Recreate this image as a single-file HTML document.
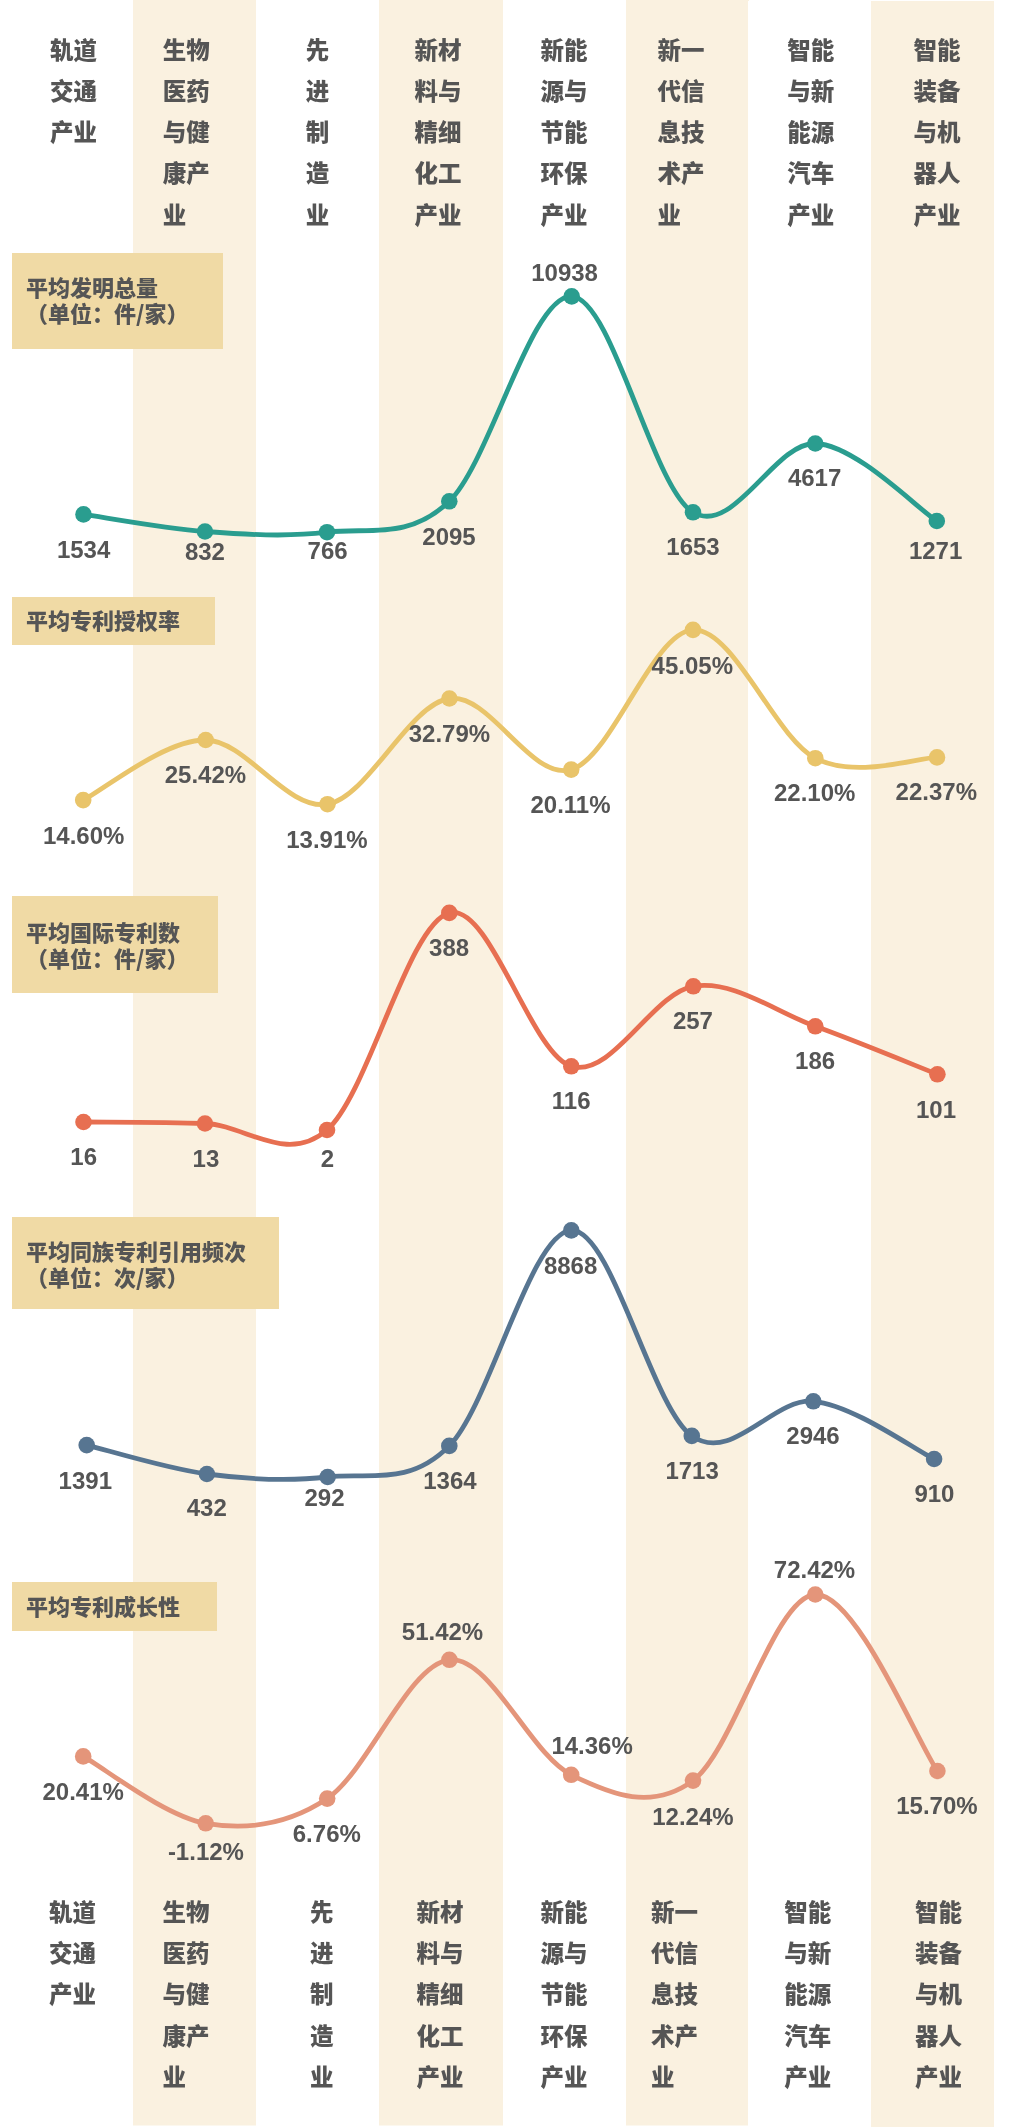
<!DOCTYPE html>
<html lang="zh-CN"><head><meta charset="utf-8"><title>产业专利指标对比</title>
<style>
html,body{margin:0;padding:0;background:#fff;}
body{width:1020px;height:2127px;overflow:hidden;}
svg{display:block;will-change:transform;}
.h{font-family:'Noto Sans CJK SC',sans-serif;font-weight:900;font-size:23.5px;fill:#555555;}
.t{font-family:'Noto Sans CJK SC',sans-serif;font-weight:900;font-size:22px;fill:#555555;}
.n{font-family:'Liberation Sans','Noto Sans CJK SC',sans-serif;font-weight:700;font-size:24px;fill:#555555;text-anchor:middle;}
</style></head><body>
<svg width="1020" height="2127" viewBox="0 0 1020 2127">

<rect x="133" y="0" width="123" height="2125.5" fill="#FAF1E0"/>
<rect x="379" y="0" width="124" height="2125.5" fill="#FAF1E0"/>
<rect x="626" y="0" width="122" height="2125.5" fill="#FAF1E0"/>
<rect x="871" y="1" width="123" height="2126" fill="#FAF1E0"/>
<rect x="748" y="0" width="1" height="1" fill="#FAF1E0"/>
<text class="h" x="50.0" y="58.5">轨道</text>
<text class="h" x="50.0" y="99.8">交通</text>
<text class="h" x="50.0" y="141.1">产业</text>
<text class="h" x="162.8" y="58.5">生物</text>
<text class="h" x="162.8" y="99.8">医药</text>
<text class="h" x="162.8" y="141.1">与健</text>
<text class="h" x="162.8" y="182.4">康产</text>
<text class="h" x="162.8" y="223.7">业</text>
<text class="h" x="305.8" y="58.5">先</text>
<text class="h" x="305.8" y="99.8">进</text>
<text class="h" x="305.8" y="141.1">制</text>
<text class="h" x="305.8" y="182.4">造</text>
<text class="h" x="305.8" y="223.7">业</text>
<text class="h" x="414.5" y="58.5">新材</text>
<text class="h" x="414.5" y="99.8">料与</text>
<text class="h" x="414.5" y="141.1">精细</text>
<text class="h" x="414.5" y="182.4">化工</text>
<text class="h" x="414.5" y="223.7">产业</text>
<text class="h" x="540.5" y="58.5">新能</text>
<text class="h" x="540.5" y="99.8">源与</text>
<text class="h" x="540.5" y="141.1">节能</text>
<text class="h" x="540.5" y="182.4">环保</text>
<text class="h" x="540.5" y="223.7">产业</text>
<text class="h" x="657.6" y="58.5">新一</text>
<text class="h" x="657.6" y="99.8">代信</text>
<text class="h" x="657.6" y="141.1">息技</text>
<text class="h" x="657.6" y="182.4">术产</text>
<text class="h" x="657.6" y="223.7">业</text>
<text class="h" x="787.3" y="58.5">智能</text>
<text class="h" x="787.3" y="99.8">与新</text>
<text class="h" x="787.3" y="141.1">能源</text>
<text class="h" x="787.3" y="182.4">汽车</text>
<text class="h" x="787.3" y="223.7">产业</text>
<text class="h" x="913.4" y="58.5">智能</text>
<text class="h" x="913.4" y="99.8">装备</text>
<text class="h" x="913.4" y="141.1">与机</text>
<text class="h" x="913.4" y="182.4">器人</text>
<text class="h" x="913.4" y="223.7">产业</text>
<text class="h" x="48.9" y="1920.6">轨道</text>
<text class="h" x="48.9" y="1961.9">交通</text>
<text class="h" x="48.9" y="2003.2">产业</text>
<text class="h" x="162.5" y="1920.6">生物</text>
<text class="h" x="162.5" y="1961.9">医药</text>
<text class="h" x="162.5" y="2003.2">与健</text>
<text class="h" x="162.5" y="2044.5">康产</text>
<text class="h" x="162.5" y="2085.8">业</text>
<text class="h" x="309.9" y="1920.6">先</text>
<text class="h" x="309.9" y="1961.9">进</text>
<text class="h" x="309.9" y="2003.2">制</text>
<text class="h" x="309.9" y="2044.5">造</text>
<text class="h" x="309.9" y="2085.8">业</text>
<text class="h" x="416.5" y="1920.6">新材</text>
<text class="h" x="416.5" y="1961.9">料与</text>
<text class="h" x="416.5" y="2003.2">精细</text>
<text class="h" x="416.5" y="2044.5">化工</text>
<text class="h" x="416.5" y="2085.8">产业</text>
<text class="h" x="540.5" y="1920.6">新能</text>
<text class="h" x="540.5" y="1961.9">源与</text>
<text class="h" x="540.5" y="2003.2">节能</text>
<text class="h" x="540.5" y="2044.5">环保</text>
<text class="h" x="540.5" y="2085.8">产业</text>
<text class="h" x="650.9" y="1920.6">新一</text>
<text class="h" x="650.9" y="1961.9">代信</text>
<text class="h" x="650.9" y="2003.2">息技</text>
<text class="h" x="650.9" y="2044.5">术产</text>
<text class="h" x="650.9" y="2085.8">业</text>
<text class="h" x="784.3" y="1920.6">智能</text>
<text class="h" x="784.3" y="1961.9">与新</text>
<text class="h" x="784.3" y="2003.2">能源</text>
<text class="h" x="784.3" y="2044.5">汽车</text>
<text class="h" x="784.3" y="2085.8">产业</text>
<text class="h" x="914.9" y="1920.6">智能</text>
<text class="h" x="914.9" y="1961.9">装备</text>
<text class="h" x="914.9" y="2003.2">与机</text>
<text class="h" x="914.9" y="2044.5">器人</text>
<text class="h" x="914.9" y="2085.8">产业</text>
<rect x="12" y="253" width="211" height="96" fill="#F0DAA5"/>
<path d="M83.50 514.40 C103.75 517.25 164.42 528.53 205.00 531.50 C245.58 534.47 286.28 537.23 327.00 532.20 C367.72 527.17 408.52 540.60 449.30 501.30 C490.08 462.00 531.08 294.57 571.70 296.40 C612.32 298.23 652.40 487.78 693.00 512.30 C733.60 536.82 774.67 442.05 815.30 443.50 C855.93 444.95 916.55 508.08 936.80 521.00" fill="none" stroke="#2A9D8F" stroke-width="4.8" stroke-linecap="round"/>
<circle cx="83.5" cy="514.4" r="8.3" fill="#2A9D8F"/>
<circle cx="205" cy="531.5" r="8.3" fill="#2A9D8F"/>
<circle cx="327" cy="532.2" r="8.3" fill="#2A9D8F"/>
<circle cx="449.3" cy="501.3" r="8.3" fill="#2A9D8F"/>
<circle cx="571.7" cy="296.4" r="8.3" fill="#2A9D8F"/>
<circle cx="693" cy="512.3" r="8.3" fill="#2A9D8F"/>
<circle cx="815.3" cy="443.5" r="8.3" fill="#2A9D8F"/>
<circle cx="936.8" cy="521" r="8.3" fill="#2A9D8F"/>
<text class="n" x="83.6" y="558.2">1534</text>
<text class="n" x="204.9" y="560.2">832</text>
<text class="n" x="327.6" y="559.2">766</text>
<text class="n" x="449" y="544.8">2095</text>
<text class="n" x="564.6" y="281.2">10938</text>
<text class="n" x="693" y="554.7">1653</text>
<text class="n" x="814.6" y="485.7">4617</text>
<text class="n" x="935.6" y="559.4">1271</text>
<rect x="12" y="597" width="203" height="48" fill="#F0DAA5"/>
<path d="M83.20 800.10 C103.62 790.08 164.98 739.32 205.70 740.00 C246.42 740.68 286.88 811.12 327.50 804.20 C368.12 797.28 408.78 704.27 449.40 698.50 C490.02 692.73 530.60 781.03 571.20 769.60 C611.80 758.17 652.32 631.80 693.00 629.90 C733.68 628.00 774.63 736.95 815.30 758.20 C855.97 779.45 916.72 757.53 937.00 757.40" fill="none" stroke="#E9C46A" stroke-width="4.8" stroke-linecap="round"/>
<circle cx="83.2" cy="800.1" r="8.3" fill="#E9C46A"/>
<circle cx="205.7" cy="740" r="8.3" fill="#E9C46A"/>
<circle cx="327.5" cy="804.2" r="8.3" fill="#E9C46A"/>
<circle cx="449.4" cy="698.5" r="8.3" fill="#E9C46A"/>
<circle cx="571.2" cy="769.6" r="8.3" fill="#E9C46A"/>
<circle cx="693" cy="629.9" r="8.3" fill="#E9C46A"/>
<circle cx="815.3" cy="758.2" r="8.3" fill="#E9C46A"/>
<circle cx="937" cy="757.4" r="8.3" fill="#E9C46A"/>
<text class="n" x="83.7" y="844.1">14.60%</text>
<text class="n" x="205.4" y="782.8">25.42%</text>
<text class="n" x="326.9" y="848.0">13.91%</text>
<text class="n" x="449.4" y="741.9">32.79%</text>
<text class="n" x="570.5" y="813.0">20.11%</text>
<text class="n" x="692.3" y="674.0">45.05%</text>
<text class="n" x="814.7" y="801.3">22.10%</text>
<text class="n" x="936.3" y="799.8">22.37%</text>
<rect x="12" y="896" width="206" height="97" fill="#F0DAA5"/>
<path d="M83.50 1122.00 C103.75 1122.25 164.42 1122.17 205.00 1123.50 C245.58 1124.83 286.28 1165.10 327.00 1130.00 C367.72 1094.90 408.58 923.52 449.30 912.90 C490.02 902.28 530.63 1054.07 571.30 1066.30 C611.97 1078.53 652.63 992.97 693.30 986.30 C733.97 979.63 774.62 1011.63 815.30 1026.30 C855.98 1040.97 917.05 1066.30 937.40 1074.30" fill="none" stroke="#E76F51" stroke-width="4.8" stroke-linecap="round"/>
<circle cx="83.5" cy="1122" r="8.3" fill="#E76F51"/>
<circle cx="205" cy="1123.5" r="8.3" fill="#E76F51"/>
<circle cx="327" cy="1130" r="8.3" fill="#E76F51"/>
<circle cx="449.3" cy="912.9" r="8.3" fill="#E76F51"/>
<circle cx="571.3" cy="1066.3" r="8.3" fill="#E76F51"/>
<circle cx="693.3" cy="986.3" r="8.3" fill="#E76F51"/>
<circle cx="815.3" cy="1026.3" r="8.3" fill="#E76F51"/>
<circle cx="937.4" cy="1074.3" r="8.3" fill="#E76F51"/>
<text class="n" x="83.7" y="1164.5">16</text>
<text class="n" x="205.9" y="1166.6">13</text>
<text class="n" x="327.4" y="1167.4">2</text>
<text class="n" x="449.1" y="956.3">388</text>
<text class="n" x="571.2" y="1109.4">116</text>
<text class="n" x="692.9" y="1029.4">257</text>
<text class="n" x="815.1" y="1069.2">186</text>
<text class="n" x="936" y="1117.5">101</text>
<rect x="12" y="1217" width="267" height="92" fill="#F0DAA5"/>
<path d="M86.70 1445.10 C106.73 1449.92 166.75 1468.68 206.90 1474.00 C247.05 1479.32 287.20 1481.68 327.60 1477.00 C368.00 1472.32 408.68 1487.00 449.30 1445.90 C489.92 1404.80 530.88 1232.07 571.30 1230.40 C611.72 1228.73 651.47 1407.42 691.80 1435.90 C732.13 1464.38 772.92 1397.45 813.30 1401.30 C853.68 1405.15 913.97 1449.38 934.10 1459.00" fill="none" stroke="#577591" stroke-width="4.8" stroke-linecap="round"/>
<circle cx="86.7" cy="1445.1" r="8.3" fill="#577591"/>
<circle cx="206.9" cy="1474" r="8.3" fill="#577591"/>
<circle cx="327.6" cy="1477" r="8.3" fill="#577591"/>
<circle cx="449.3" cy="1445.9" r="8.3" fill="#577591"/>
<circle cx="571.3" cy="1230.4" r="8.3" fill="#577591"/>
<circle cx="691.8" cy="1435.9" r="8.3" fill="#577591"/>
<circle cx="813.3" cy="1401.3" r="8.3" fill="#577591"/>
<circle cx="934.1" cy="1459" r="8.3" fill="#577591"/>
<text class="n" x="85.3" y="1488.8">1391</text>
<text class="n" x="206.8" y="1516.4">432</text>
<text class="n" x="324.5" y="1506.1">292</text>
<text class="n" x="449.9" y="1489.0">1364</text>
<text class="n" x="570.6" y="1273.5">8868</text>
<text class="n" x="692.1" y="1479.0">1713</text>
<text class="n" x="813" y="1443.5">2946</text>
<text class="n" x="934.4" y="1502.1">910</text>
<rect x="12" y="1582" width="205" height="49" fill="#F0DAA5"/>
<path d="M83.20 1756.40 C103.62 1767.55 165.03 1816.27 205.70 1823.30 C246.37 1830.33 286.58 1825.85 327.20 1798.60 C367.82 1771.35 408.73 1663.77 449.40 1659.80 C490.07 1655.83 530.60 1754.67 571.20 1774.80 C611.80 1794.93 652.32 1810.65 693.00 1780.60 C733.68 1750.55 774.57 1596.10 815.30 1594.50 C856.03 1592.90 917.05 1741.58 937.40 1771.00" fill="none" stroke="#E4957A" stroke-width="4.8" stroke-linecap="round"/>
<circle cx="83.2" cy="1756.4" r="8.3" fill="#E4957A"/>
<circle cx="205.7" cy="1823.3" r="8.3" fill="#E4957A"/>
<circle cx="327.2" cy="1798.6" r="8.3" fill="#E4957A"/>
<circle cx="449.4" cy="1659.8" r="8.3" fill="#E4957A"/>
<circle cx="571.2" cy="1774.8" r="8.3" fill="#E4957A"/>
<circle cx="693" cy="1780.6" r="8.3" fill="#E4957A"/>
<circle cx="815.3" cy="1594.5" r="8.3" fill="#E4957A"/>
<circle cx="937.4" cy="1771" r="8.3" fill="#E4957A"/>
<text class="n" x="83.2" y="1800.1">20.41%</text>
<text class="n" x="205.9" y="1860.2">-1.12%</text>
<text class="n" x="326.8" y="1842.4">6.76%</text>
<text class="n" x="442.5" y="1639.7">51.42%</text>
<text class="n" x="592.1" y="1754.0">14.36%</text>
<text class="n" x="692.9" y="1825.4">12.24%</text>
<text class="n" x="814.5" y="1577.8">72.42%</text>
<text class="n" x="936.9" y="1813.8">15.70%</text>
<text class="t" x="26" y="296.4">平均发明总量</text>
<text class="t" x="26" y="322.4">（单位：件/家）</text>
<text class="t" x="26" y="629.2">平均专利授权率</text>
<text class="t" x="26" y="940.6">平均国际专利数</text>
<text class="t" x="26" y="966.6">（单位：件/家）</text>
<text class="t" x="26" y="1259.5">平均同族专利引用频次</text>
<text class="t" x="26" y="1285.5">（单位：次/家）</text>
<text class="t" x="26" y="1614.5">平均专利成长性</text>
</svg></body></html>
